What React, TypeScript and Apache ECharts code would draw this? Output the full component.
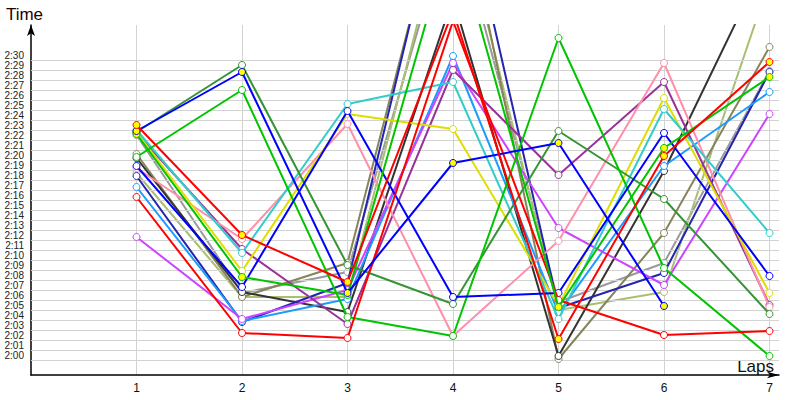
import React, { useEffect, useRef } from "react";
import * as echarts from "echarts";

// lap numbers
const laps = [1, 2, 3, 4, 5, 6, 7];

// lap times in seconds (2:00 = 120)
const redA = [143.0, 132.0, 127.3, 154.4, 121.6, 139.9, 149.3];
const blueA = [142.4, 148.3, 126.2, 139.2, 141.2, 124.9, null];
const greenA = [142.1, 127.8, 126.0, 162.6, 124.8, 140.7, 147.8];
const redB = [135.8, 122.2, 121.7, 153.4, 125.5, 122.0, 122.4];
const blueB = [138.9, 126.8, 144.4, 125.8, 126.2, 142.2, 127.9];
const greenB = [139.8, 146.5, 123.8, 121.9, 151.7, 128.7, 119.9];
const darkGreen = [142.3, 149.0, 129.0, 125.1, 142.4, 135.6, 124.1];
const cyan = [142.5, 130.2, 145.1, 147.3, 123.6, 144.6, 132.2];
const yellow = [142.3, 128.4, 144.1, 142.6, 124.9, 145.7, 126.2];
const pink = [138.7, 131.6, 143.1, 121.9, 131.4, 149.2, 124.8];
const purple = [142.2, 130.6, 123.1, 148.5, 138.0, 147.3, 125.0];
const violet = [131.8, 123.6, 126.5, 149.2, 132.7, 127.0, 144.1];
const lightBlue = [136.8, 123.4, 125.6, 149.9, 124.2, 138.9, 146.3];
const navy = [137.9, 123.3, 127.2, 171.0, 124.7, 128.2, 148.3];
const olive = [140.1, 125.8, 129.2, 170.0, 119.6, 132.2, 150.8];
const lightOlive = [138.2, 125.8, 125.8, 167.0, 124.5, 126.3, 157.4];
const gray = [142.0, 126.2, 128.3, 164.6, 125.3, 129.2, 148.4];
const black = [139.7, 126.3, 124.3, 155.7, 119.9, 138.4, 160.2];

// horizontal grid lines (half-second boundaries) and labelled seconds
const gridFirst = 119.5;
const gridLast = 149.5;
const labelFirst = 120;
const labelLast = 150;

const seriesDefs = [
  { name: "gray", data: gray, color: "#9a9a9a", fill: "#ffffff" },
  { name: "lightOlive", data: lightOlive, color: "#a9bf6e", fill: "#ffffff" },
  { name: "olive", data: olive, color: "#85845a", fill: "#ffffff" },
  { name: "black", data: black, color: "#333333", fill: "#ffffff" },
  { name: "navy", data: navy, color: "#2424b0", fill: "#ffffff" },
  { name: "lightBlue", data: lightBlue, color: "#1a9cff", fill: "#ffffff" },
  { name: "violet", data: violet, color: "#cc44ff", fill: "#ffffff" },
  { name: "purple", data: purple, color: "#993399", fill: "#ffffff" },
  { name: "pink", data: pink, color: "#ff8fab", fill: "#ffffff" },
  { name: "yellow", data: yellow, color: "#dede00", fill: "#ffffff" },
  { name: "cyan", data: cyan, color: "#33cccc", fill: "#ffffff" },
  { name: "darkGreen", data: darkGreen, color: "#359535", fill: "#ffffff" },
  { name: "greenB", data: greenB, color: "#00c400", fill: "#ffffff" },
  { name: "blueB", data: blueB, color: "#0000ff", fill: "#ffffff" },
  { name: "redB", data: redB, color: "#ff0000", fill: "#ffffff" },
  { name: "greenA", data: greenA, color: "#00c400", fill: "#ffff00" },
  { name: "blueA", data: blueA, color: "#0000ff", fill: "#ffff00" },
  { name: "redA", data: redA, color: "#ff0000", fill: "#ffff00" },
];

const FONT = "Liberation Sans";

function fmt(v: number) {
  const m = Math.floor(v / 60);
  const s = Math.round(v - m * 60);
  return m + ":" + (s < 10 ? "0" : "") + s;
}

export default function App() {
  const ref = useRef<HTMLDivElement>(null);
  useEffect(() => {
    if (!ref.current) return;
    const chart = echarts.init(ref.current, undefined, { renderer: "svg" });
    const gridValues: number[] = [];
    for (let v = gridFirst; v <= gridLast + 0.001; v += 1) gridValues.push(v);

    const series: any[] = [
      {
        name: "grid",
        type: "line",
        data: [],
        silent: true,
        z: 1,
        markLine: {
          silent: true,
          symbol: ["none", "none"],
          label: { show: false },
          lineStyle: { color: "#d3d3d3", width: 1, type: "solid" },
          emphasis: { disabled: true },
          data: gridValues.map((v) => ({ yAxis: v })),
        },
      },
    ];
    seriesDefs.forEach((s, i) => {
      series.push({
        name: s.name,
        type: "line",
        z: 3 + i,
        data: laps.map((l, k) => [l, s.data[k]]),
        symbol: "circle",
        symbolSize: 7,
        showAllSymbol: true,
        connectNulls: false,
        lineStyle: { color: s.color, width: 2 },
        itemStyle: { color: s.fill, borderColor: s.color, borderWidth: 1 },
        emphasis: { disabled: true },
      });
    });

    chart.setOption({
      animation: false,
      textStyle: { fontFamily: FONT },
      grid: { left: 31, right: 21, top: 25, bottom: 25, containLabel: false },
      xAxis: {
        type: "value",
        min: 0,
        max: 7.09,
        interval: 1,
        name: "Laps",
        nameLocation: "end",
        nameGap: -5,
        nameTextStyle: {
          fontSize: 17,
          color: "#111",
          align: "right",
          verticalAlign: "bottom",
          fontFamily: FONT,
        },
        axisLine: {
          show: true,
          lineStyle: { color: "#000", width: 1.5 },
          symbol: ["none", "arrow"],
          symbolSize: [5, 12],
        },
        axisTick: { show: false },
        axisLabel: {
          fontSize: 12,
          color: "#111",
          margin: 7,
          fontFamily: FONT,
          formatter: (v: number) => (laps.indexOf(v) >= 0 ? String(v) : ""),
        },
        splitLine: {
          show: true,
          showMinLine: false,
          showMaxLine: false,
          lineStyle: { color: "#d3d3d3", width: 1 },
        },
      },
      yAxis: {
        type: "value",
        min: 118,
        max: 153,
        interval: 1,
        name: "Time",
        nameLocation: "end",
        nameGap: 2,
        nameTextStyle: {
          fontSize: 17,
          color: "#200",
          padding: [0, 13, 0, 0],
          fontFamily: FONT,
        },
        axisLine: {
          show: true,
          lineStyle: { color: "#000", width: 1.5 },
          symbol: ["none", "arrow"],
          symbolSize: [6, 11],
        },
        axisTick: { show: false },
        axisLabel: {
          fontSize: 10,
          color: "#222",
          margin: 7,
          fontFamily: FONT,
          formatter: (v: number) =>
            v >= labelFirst && v <= labelLast && Math.abs(v - Math.round(v)) < 1e-6 ? fmt(v) : "",
        },
        splitLine: { show: false },
      },
      series,
    });
    return () => chart.dispose();
  }, []);
  return (
    <div
      ref={ref}
      style={{ position: "absolute", left: 0, top: 0, width: 800, height: 400 }}
    />
  );
}
